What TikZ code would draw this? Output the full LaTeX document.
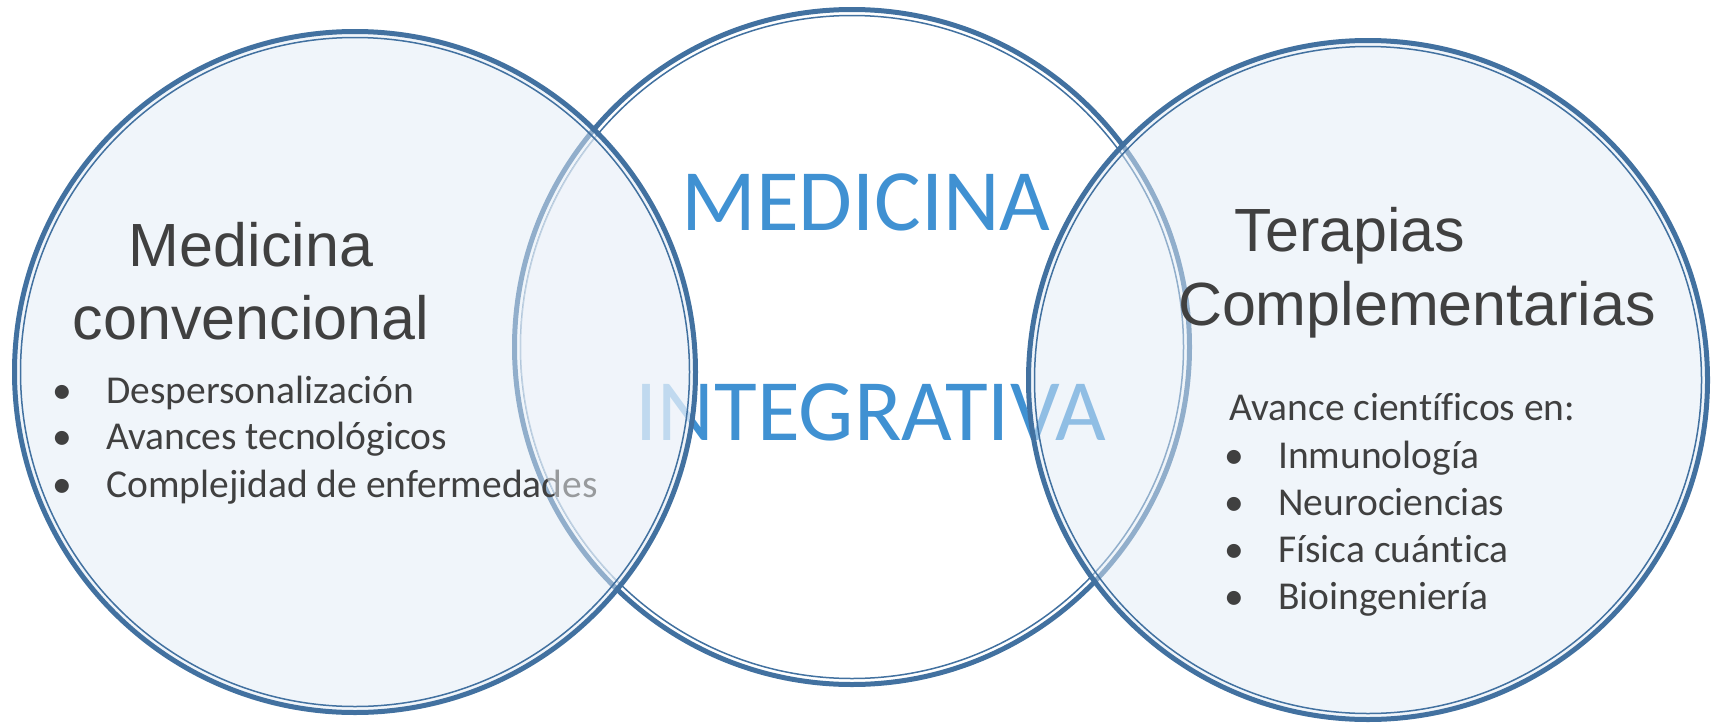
\documentclass[tikz,border=0pt]{standalone}
\usepackage{fontspec}
\setmainfont{Carlito}
\newfontfamily\headf{Liberation Sans}
\newfontfamily\bodyf[Ligatures=NoCommon]{Carlito}
\definecolor{ring}{RGB}{66,113,160}
\definecolor{tint}{RGB}{225,235,246}
\definecolor{tintmix}{RGB}{240,245,250}
\definecolor{blueT}{RGB}{64,145,210}
\definecolor{txt}{RGB}{64,64,64}
\tikzset{
  ringouter/.style={draw=ring, line width=5pt},
  ringinner/.style={draw=ring, line width=1.5pt},
  ringfill/.style={fill=tint, fill opacity=0.5},
  head/.style={font=\headf\fontsize{61}{73}\selectfont, text=txt, inner sep=0pt, anchor=base},
  body/.style={font=\bodyf\fontsize{39.5}{47}\selectfont, text=txt, inner sep=0pt, anchor=base west},
  bul/.style={font=\bodyf\fontsize{39.5}{47}\selectfont, text=txt, inner sep=0pt, anchor=base},
  big/.style={font=\bodyf\fontsize{87.5}{100}\selectfont, text=blueT, inner sep=0pt, anchor=base},
}
\begin{document}
\begin{tikzpicture}[x=1pt,y=-1pt]
\useasboundingbox (0,0) rectangle (1713,723);
\coordinate (cL) at (355,372);
\coordinate (cM) at (852,347);
\coordinate (cR) at (1368,380);

% centre title
\node[big] (med) at (866,230) {MEDICINA};
\node[big] (integ) at (871,440) {INTEGRATIVA};

% middle ring (underneath)
\draw[ringouter] (cM) circle[radius=337.5pt];
\draw[ringinner] (cM) circle[radius=331.5pt];

% translucent fills of side circles
\fill[ringfill] (cL) circle[radius=338pt];
\fill[ringfill] (cR) circle[radius=337pt];

% left texts
\node[head] (h1) at (251,266) {Medicina};
\node[head] (h2) at (251,339) {convencional};
\node[bul] (b1) at (62,403) {•};
\node[bul] (b2) at (62,449.5) {•};
\node[bul] (b3) at (62,497) {•};
\node[body] (l1) at (106,403) {Despersonalización};
\node[body] (l2) at (106,449.5) {Avances tecnológicos};
\node[body] (l3) at (106,497) {Complejidad de enfermedades};

% fading where the middle circle covers the left one
\begin{scope}
  \clip (cL) circle[radius=338pt];
  \fill[tintmix, opacity=0.5] (cM) circle[radius=332pt];
\end{scope}

% right texts
\node[head] (t1) at (1350,251) {Terapias};
\node[head] (t2) at (1417,325) {Complementarias};
\node[body] (r0) at (1229,420) {Avance científicos en:};
\node[bul] (rb1) at (1234,468) {•};
\node[bul] (rb2) at (1234,515) {•};
\node[bul] (rb3) at (1234,562) {•};
\node[bul] (rb4) at (1234,609) {•};
\node[body] (r1) at (1278,468) {Inmunología};
\node[body] (r2) at (1278,515) {Neurociencias};
\node[body] (r3) at (1278,562) {Física cuántica};
\node[body] (r4) at (1278,609) {Bioingeniería};

% side rings on top
\draw[ringouter] (cL) circle[radius=340.5pt];
\draw[ringinner] (cL) circle[radius=334.5pt];
\draw[ringouter] (cR) circle[radius=339.5pt];
\draw[ringinner] (cR) circle[radius=333.5pt];
\end{tikzpicture}
\end{document}
